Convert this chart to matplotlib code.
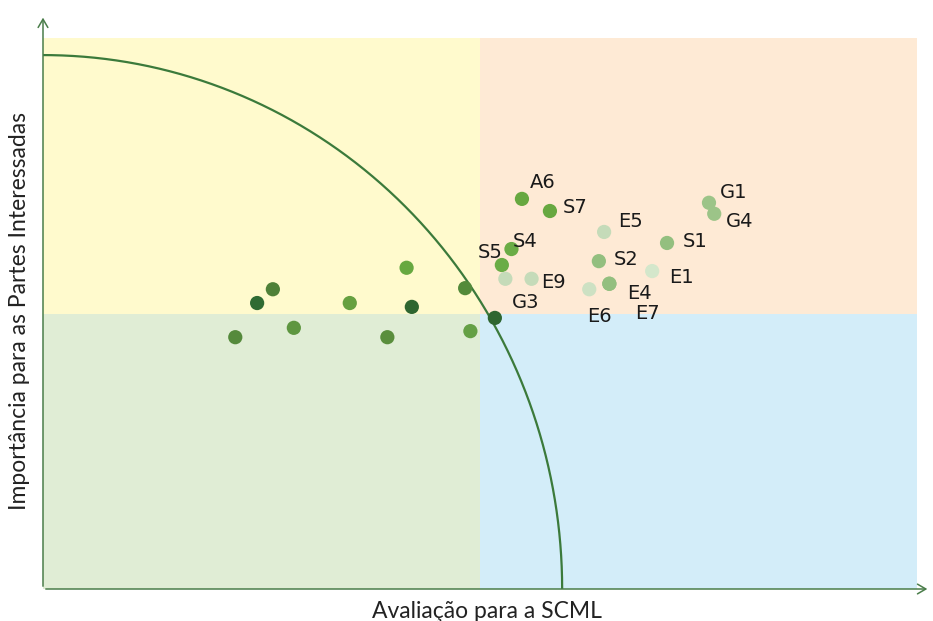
import numpy as np
import matplotlib.pyplot as plt
from matplotlib.patches import Rectangle

# labelled items (x = avaliacao, y = importancia)
labels = ["A6", "S7", "E5", "S4", "S5", "G3", "E9", "S2", "E6", "E4", "E7", "E1", "S1", "G1", "G4"]
lab_x = [54.8, 58.0, 64.2, 53.6, 52.5, 52.9, 55.9, 63.6, 62.5, 64.8, 64.8, 69.7, 71.4, 76.2, 76.8]
lab_y = [70.8, 68.6, 64.8, 61.7, 58.8, 56.3, 56.3, 59.5, 54.4, 55.4, 55.4, 57.7, 62.8, 70.1, 68.1]
lab_col = ["#67a840", "#67a840", "#c5dbb9", "#6aac46", "#6aac46", "#c5dbb9", "#c5dbb9",
           "#93bf7f", "#cde1c3", "#93bf7f", "#93bf7f", "#d4e7cb", "#93bf7f", "#9cc488", "#9cc488"]
# text offsets in pixels (dx right, dy up)
lab_dx = [8, 13, 14, 1, -24, 7, 10, 15, -2, 18, 26, 17, 16, 11, 12]
lab_dy = [16, 4, 10, 8, 13, -24, -4, 2, -27, -10, -30, -6, 1, 10, -8]

# unlabelled items
other_x = [41.6, 26.3, 24.5, 35.1, 42.2, 48.3, 22.0, 28.7, 39.4, 48.9, 51.7]
other_y = [58.3, 54.4, 51.9, 51.9, 51.2, 54.6, 45.7, 47.4, 45.7, 46.8, 49.2]
other_col = ["#67a840", "#4f8038", "#2f6b33", "#66a040", "#2e6630", "#538a3a",
             "#558a3c", "#5e9640", "#5a8e3c", "#65a045", "#2e6630"]

# boundary curve (semi-axes in data units)
arc_a, arc_b = 59.4, 96.9

fig = plt.figure(figsize=(9.33, 6.21), dpi=100)
ax = fig.add_axes([43 / 933, 32 / 621, 890 / 933, 589 / 621])
ax.set_xlim(0, 890 / 8.74)
ax.set_ylim(0, 589 / 5.51)
ax.axis("off")

quads = [(0, 0, "#e0edd5"), (50, 0, "#d3edf9"), (0, 50, "#fffacd"), (50, 50, "#feead5")]
for qx, qy, c in quads:
    ax.add_patch(Rectangle((qx, qy), 50, 50, facecolor=c, edgecolor="none", zorder=0))

t = np.linspace(0, np.pi / 2, 300)
ax.plot(arc_a * np.cos(t), arc_b * np.sin(t), color="#3b7a3b", lw=1.6, zorder=2)

axis_col = "#4a7d4a"
ax.annotate("", xy=(101.5, 0), xytext=(0, 0),
            arrowprops=dict(arrowstyle="->,head_length=0.6,head_width=0.35", color=axis_col, lw=1.1))
ax.annotate("", xy=(0, 104.2), xytext=(0, 0),
            arrowprops=dict(arrowstyle="->,head_length=0.6,head_width=0.35", color=axis_col, lw=1.1))

ax.scatter(other_x, other_y, s=105, c=other_col, edgecolors="none", zorder=3)
ax.scatter(lab_x, lab_y, s=105, c=lab_col, edgecolors="none", zorder=3)

for name, x, y, dx, dy in zip(labels, lab_x, lab_y, lab_dx, lab_dy):
    ax.annotate(name, (x, y), xytext=(dx * 0.72, dy * 0.72), textcoords="offset points",
                ha="left", va="center", fontsize=14, color="#1a1a1a", zorder=4)

fig.text(487 / 933, 1 - 611 / 621, "Avaliação para a SCML", ha="center", va="center",
         fontsize=16.5, family="Lato", color="#222222")
fig.text(20 / 933, 1 - 311 / 621, "Importância para as Partes Interessadas", ha="center",
         va="center", rotation=90, fontsize=16.5, family="Lato", color="#222222")

fig.savefig("out.png", dpi=100)
